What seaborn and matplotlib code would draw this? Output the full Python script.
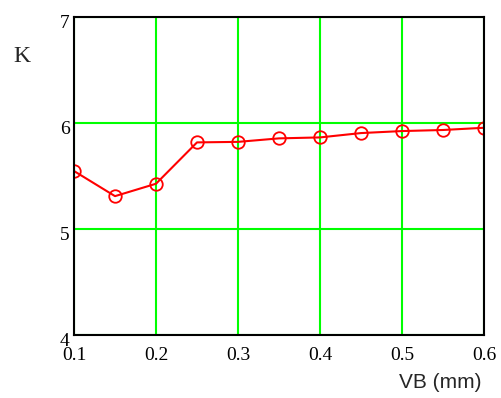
import matplotlib
matplotlib.use("Agg")
import matplotlib.pyplot as plt
import matplotlib.transforms as mtransforms
import seaborn as sns
import pandas as pd

vb = [0.10, 0.15, 0.20, 0.25, 0.30, 0.35, 0.40, 0.45, 0.50, 0.55, 0.60]
k = [5.547, 5.31, 5.427, 5.817, 5.822, 5.855, 5.864, 5.905, 5.924, 5.934, 5.955]
x_ticks = [0.1, 0.2, 0.3, 0.4, 0.5, 0.6]
x_labels = ["0.1", "0.2", "0.3", "0.4", "0.5", "0.6"]
y_ticks = [4, 5, 6, 7]
y_labels = ["4", "5", "6", "7"]

sns.set_style("white")
plt.rcParams['font.family'] = ['Liberation Serif', 'DejaVu Serif']

fig = plt.figure(figsize=(5.01, 3.98), dpi=100)
ax = fig.add_axes([74/501, 1-335/398, (484-74)/501, (335-17)/398])

df = pd.DataFrame({"VB": vb, "K": k})
sns.lineplot(data=df, x="VB", y="K", ax=ax, color="red", linewidth=1.5,
             marker="o", markersize=9, markerfacecolor="none",
             markeredgecolor="red", markeredgewidth=1.3, zorder=3)

ax.set_xlim(0.1, 0.6)
ax.set_ylim(4, 7)
ax.set_xticks(x_ticks)
ax.set_xticklabels(x_labels)
ax.set_yticks(y_ticks)
ax.set_yticklabels(y_labels)
ax.tick_params(axis='both', length=0, labelsize=14, colors='black')
ax.tick_params(axis='x', pad=9)
ax.tick_params(axis='y', pad=3)
offset = mtransforms.ScaledTranslation(0, -3/72, fig.dpi_scale_trans)
for lbl in ax.get_yticklabels():
    lbl.set_transform(lbl.get_transform() + offset)
ax.grid(True, color="#00ff00", linewidth=1.5)
ax.set_axisbelow(True)
for s in ax.spines.values():
    s.set_visible(True)
    s.set_color("black")
    s.set_linewidth(1.5)
    s.set_zorder(4)

ax.set_xlabel("")
ax.set_ylabel("")
fig.text(22/501, 1-57/398, "K", fontsize=17, ha="center", va="center",
         family=['Liberation Serif'])
fig.text(440/501, 1-383/398, "VB (mm)", fontsize=15, ha="center", va="center",
         family=['Liberation Sans'])

fig.savefig("out.png", dpi=100)
